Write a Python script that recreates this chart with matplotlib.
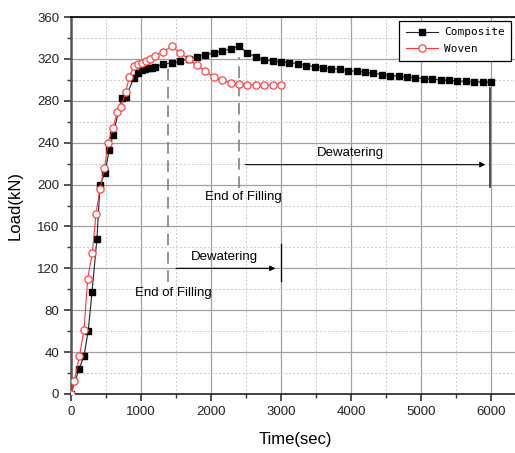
import numpy as np
import matplotlib
matplotlib.use("Agg")
import matplotlib.pyplot as plt
from matplotlib.ticker import MultipleLocator

plt.rcParams['font.family'] = ['Liberation Sans', 'DejaVu Sans']

# composite (black squares)
comp_t = [0, 115, 185, 245, 300, 370, 415, 485, 545, 600, 725, 785, 900, 960, 1015,
          1060, 1110, 1160, 1205, 1320, 1440, 1560, 1680, 1800, 1920, 2040, 2160,
          2280, 2400, 2520, 2640, 2760, 2880, 3000, 3120, 3240, 3360, 3480, 3600,
          3720, 3840, 3960, 4080, 4200, 4320, 4440, 4560, 4680, 4800, 4920, 5040,
          5160, 5280, 5400, 5520, 5640, 5760, 5880, 6000]
comp_load = [0, 24, 36, 60, 97, 148, 200, 211, 233, 247, 283, 284, 302, 307, 309,
             310, 311, 311.5, 312.5, 315, 316, 318, 320, 322, 324, 325.5, 327.5,
             329.5, 332, 325.5, 322, 319, 318, 317, 316.5, 315.5, 313.6, 312.7, 311.7,
             310.7, 310.2, 308.8, 308.2, 307.3, 306.3, 305, 304, 303.5, 302.8, 301.8,
             301.2, 300.8, 299.8, 299.5, 298.9, 298.5, 298.2, 297.9, 297.6]

# woven (red open circles)
wov_t = [0, 45, 120, 185, 238, 305, 357, 414, 476, 533, 595, 662, 714, 781, 833, 900,
         957, 1014, 1071, 1129, 1195, 1320, 1440, 1560, 1680, 1800, 1920, 2040, 2160,
         2280, 2400, 2520, 2640, 2760, 2880, 3000]
wov_load = [0, 12, 36, 61, 110, 135, 172, 196, 215.5, 240, 254, 269, 274, 288, 303, 313,
            315, 316.3, 318, 319.5, 322.7, 327, 332, 326, 319.5, 314, 308.4, 302.3, 299.5,
            297.2, 295.7, 295, 295, 295, 295, 295]

fig = plt.figure(figsize=(5.15, 4.53), dpi=100)
ax = fig.add_axes([71/515, 59/453, 448/515, 377/453])

ax.plot(comp_t, comp_load, '-', color='#222222', lw=0.8, marker='s', ms=4.8,
        mfc='black', mec='black', label='Composite', zorder=3)
ax.plot(wov_t, wov_load, '-', color='#ff3333', lw=0.8, marker='o', ms=5.2,
        mfc='white', mec='#ff4444', mew=0.9, label='Woven', zorder=4)

ax.set_xlim(0, 6400)
ax.set_ylim(0, 360)
ax.xaxis.set_major_locator(MultipleLocator(1000))
ax.xaxis.set_minor_locator(MultipleLocator(500))
ax.yaxis.set_major_locator(MultipleLocator(40))
ax.yaxis.set_minor_locator(MultipleLocator(20))
ax.grid(which='major', color='#a0a0a0', lw=0.9)
ax.grid(which='minor', color='#c8c8c8', lw=0.7, ls=(0, (2, 2)))
ax.set_axisbelow(True)
ax.tick_params(which='major', direction='out', length=5, width=1.2, labelsize=9.5,
               color='#333333', labelcolor='#222222')
ax.tick_params(which='minor', direction='out', length=3, width=1.0, color='#333333')
ax.spines['right'].set_visible(False)
ax.spines['left'].set_color('#555555')
ax.spines['left'].set_linewidth(1.8)
ax.spines['bottom'].set_color('#222222')
ax.spines['bottom'].set_linewidth(1.2)
ax.spines['top'].set_linewidth(1.2)

ax.set_xlabel('Time(sec)', fontsize=12, labelpad=10)
ax.set_ylabel('Load(kN)', fontsize=12, labelpad=10)

# annotations
dash = (0, (7, 4))
ax.plot([1380, 1380], [107, 314], color='#808080', lw=1.2, ls=dash, zorder=2)
ax.plot([2400, 2400], [197, 322], color='#808080', lw=1.2, ls=dash, zorder=2)
ax.text(1460, 96, 'End of Filling', fontsize=9.5, ha='center', va='center')
ax.text(2460, 188, 'End of Filling', fontsize=9.5, ha='center', va='center')

ax.annotate('', xy=(2960, 120), xytext=(1460, 120),
            arrowprops=dict(arrowstyle='-|>', color='black', lw=0.8, mutation_scale=8))
ax.plot([3000, 3000], [108, 143], color='black', lw=0.9)
ax.text(2190, 131, 'Dewatering', fontsize=9.5, ha='center', va='center')

ax.annotate('', xy=(5960, 219), xytext=(2450, 219),
            arrowprops=dict(arrowstyle='-|>', color='black', lw=0.8, mutation_scale=8))
ax.plot([5990, 5990], [198, 292], color='#333333', lw=1.2)
ax.text(3990, 230, 'Dewatering', fontsize=9.5, ha='center', va='center')

leg = ax.legend(loc='upper left', bbox_to_anchor=(0.733, 0.99), fancybox=False,
                framealpha=1, edgecolor='black', prop={'family': 'DejaVu Sans Mono', 'size': 8},
                handlelength=2.9, handletextpad=0.5, borderaxespad=0, borderpad=0.6,
                labelspacing=0.6)
leg.get_frame().set_linewidth(0.9)

fig.savefig('out.png', dpi=100)
